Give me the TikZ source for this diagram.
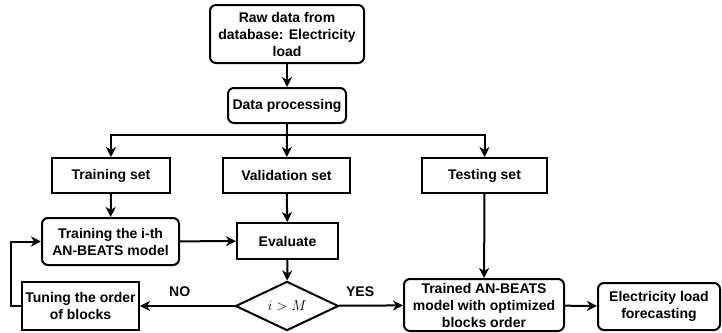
\documentclass[tikz,border=0pt]{standalone}
\usepackage{fontspec}
\setmainfont{Liberation Sans}
\usetikzlibrary{shapes.geometric,arrows.meta,positioning}
\begin{document}
\begin{tikzpicture}[x=1pt,y=-1pt,
  every node/.style={font=\fontsize{14}{17}\selectfont\bfseries, align=center, inner sep=0pt},
  plainbox/.style={draw, line width=2pt, minimum width=#1},
  roundbox/.style={draw, line width=2pt, rounded corners=6pt, minimum width=#1},
  decision/.style={draw, line width=2pt, diamond, minimum width=103pt, minimum height=48pt},
  flow/.style={line width=2pt, -{Stealth[length=10pt,width=10pt,inset=3pt]}},
  edge label/.style={font=\fontsize{14}{16}\selectfont\bfseries}]
\useasboundingbox (0,0) rectangle (722,332);

% top of the pipeline
\node[roundbox=154pt, minimum height=58pt] (raw) at (287,34) {Raw data from\\database: Electricity\\load};
\node[roundbox=118pt, minimum height=35pt] (proc) at (287,105.5) {Data processing};
\coordinate (split) at (287,135);

% dataset split
\node[plainbox=118pt, minimum height=35pt] (trainset) at (111,175.5) {Training set};
\node[plainbox=127pt, minimum height=35pt] (valset) at (286.5,175.5) {Validation set};
\node[plainbox=125pt, minimum height=35pt] (testset) at (484.5,175.5) {Testing set};

% training / evaluation loop
\node[roundbox=137pt, minimum height=47pt] (model) at (110.5,241.5) {Training the i-th\\AN-BEATS model};
\node[plainbox=101pt, minimum height=36pt] (eval) at (287.5,241) {Evaluate};
\node[decision] (check) at (287,306) {\normalfont\fontsize{14}{16}\selectfont$i > M$};
\node[plainbox=117pt, minimum height=48pt] (tune) at (80.5,306) {Tuning the order\\of blocks};

% final model and output
\node[roundbox=160pt, minimum height=52pt] (trained) at (484,305) {Trained AN-BEATS\\model with optimized\\blocks order};
\node[roundbox=122pt, minimum height=47pt] (forecast) at (659,306.5) {Electricity load\\forecasting};

% connectors
\draw[flow] (raw) -- (proc);
\draw[line width=2pt] (proc) -- (split);
\draw[flow] (split) -- (valset);
\draw[flow] (split) -| (trainset);
\draw[flow] (split) -| (testset);
\draw[flow] (trainset) -- (model);
\draw[flow] (valset) -- (eval);
\draw[flow] (model) -- (eval);
\draw[flow] (eval) -- (check);
\draw[flow] (check) -- node[edge label, above=8pt, pos=0.58] {NO} (tune);
\draw[flow] (check) -- node[edge label, above=8pt, pos=0.33] {YES} (trained);
\draw[flow] (testset) -- (trained);
\draw[flow] (trained) -- (forecast);
\draw[flow] (tune.west) -- ++(-10,0) |- (model.west);
\end{tikzpicture}
\end{document}
